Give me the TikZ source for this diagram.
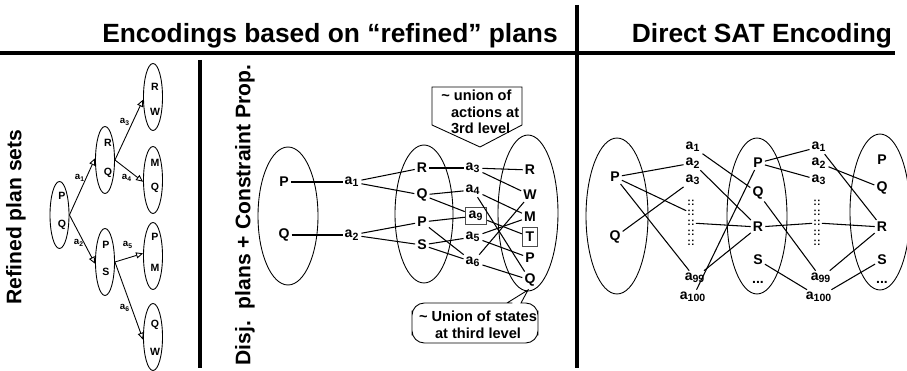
\documentclass[tikz,border=0pt]{standalone}
\usepackage{fontspec}
\setmainfont{Liberation Sans}
\usetikzlibrary{shapes.geometric,arrows.meta}

\tikzset{
  head/.style={font=\bfseries\fontsize{15}{17}\selectfont, inner sep=0pt, anchor=base},
  side/.style={font=\bfseries\fontsize{12}{14}\selectfont, inner sep=0pt, rotate=90},
  lbl/.style={font=\bfseries\fontsize{8}{9}\selectfont, inner sep=1pt},
  tlbl/.style={font=\bfseries\fontsize{6}{7}\selectfont, inner sep=0.5pt},
  elbl/.style={font=\bfseries\fontsize{5.5}{6}\selectfont, inner sep=0pt},
  dotrow/.style={font=\bfseries\fontsize{6}{6}\selectfont, inner sep=0.5pt},
  note/.style={font=\bfseries\fontsize{8.3}{9.5}\selectfont, inner sep=0pt},
  tset/.style={draw, ellipse, inner sep=0pt, minimum width=0.38cm, minimum height=1.34cm},
  pset/.style={draw, ellipse, inner sep=0pt, minimum width=1.2cm, minimum height=#1},
  boxed/.style={draw=black!70, inner sep=2pt},
  tarrow/.style={-{Triangle[open, length=4pt, width=3.5pt]}},
  link/.style={line width=0.6pt}
}

\begin{document}
\begin{tikzpicture}[x=0.02cm, y=-0.02cm, line width=0.5pt]
  \useasboundingbox (0,0) rectangle (907,371);

  % headings and dividers
  \node[head] (hrefined) at (330,43) {Encodings based on “refined” plans};
  \node[head] (hsat) at (762,43) {Direct SAT Encoding};
  \draw[line width=2.8pt] (0,53) -- (895,53);
  \draw[line width=2.3pt] (577,5) -- (577,368);
  \draw[line width=2.3pt] (200,60) -- (200,368);

  \node[side] (srefined) at (16,217) {Refined plan sets};
  \node[side] (sdisj) at (245,215) {Disj.~~plans + Constraint Prop.};

  % refined plan sets tree
  \node[tset] (t0) at (59.5,215) {};
  \node[tlbl] at (62,196) {P};
  \node[tlbl] at (62,225) {Q};
  \node[tset] (t1) at (105,160) {};
  \node[tlbl] at (108,143) {R};
  \node[tlbl] at (108,173) {Q};
  \node[tset] (t2) at (105,262) {};
  \node[tlbl] at (106,245) {P};
  \node[tlbl] at (106,272) {S};
  \node[tset] (t3) at (153,97) {};
  \node[tlbl] at (155,87) {R};
  \node[tlbl] at (155,112) {W};
  \node[tset] (t4) at (153,180) {};
  \node[tlbl] at (155,163) {M};
  \node[tlbl] at (155,188) {Q};
  \node[tset] (t5) at (153,256) {};
  \node[tlbl] at (155,237) {P};
  \node[tlbl] at (155,268) {M};
  \node[tset] (t6) at (153,337) {};
  \node[tlbl] at (155,325) {Q};
  \node[tlbl] at (155,352) {W};

  \draw[tarrow] (t0.east) -- (t1.170);
  \draw[tarrow] (t0.east) -- (t2.190);
  \draw[tarrow] (t1.east) -- (t3.195);
  \draw[tarrow] (t1.east) -- (t4.190);
  \draw[tarrow] (t2.east) -- (t5.165);
  \draw[tarrow] (t2.east) -- (t6.195);

  \node[elbl] at (80,178) {a\textsubscript{1}};
  \node[elbl] at (79,243) {a\textsubscript{2}};
  \node[elbl] at (125,122) {a\textsubscript{3}};
  \node[elbl] at (127,178) {a\textsubscript{4}};
  \node[elbl] at (128,245) {a\textsubscript{5}};
  \node[elbl] at (125,308) {a\textsubscript{6}};

  % disjunctive plans
  \node[pset=2.76cm] (m1) at (288,216) {};
  \node[lbl] (mp1) at (284,182) {P};
  \node[lbl] (mq1) at (284,235) {Q};
  \node[lbl] (ma1) at (352,182) {a\textsubscript{1}};
  \node[lbl] (ma2) at (352,235) {a\textsubscript{2}};

  \node[pset=2.76cm, minimum width=1.16cm] (m2) at (424,214) {};
  \node[lbl] (mr2) at (422,168) {R};
  \node[lbl] (mq2) at (422,195) {Q};
  \node[lbl] (mp2) at (422,222) {P};
  \node[lbl] (ms2) at (422,245) {S};

  \node[lbl] (ma3) at (473,168) {a\textsubscript{3}};
  \node[lbl] (ma4) at (473,190) {a\textsubscript{4}};
  \node[lbl, boxed] (ma9) at (476,216) {a\textsubscript{9}};
  \node[lbl] (ma5) at (473,237) {a\textsubscript{5}};
  \node[lbl] (ma6) at (473,262) {a\textsubscript{6}};

  \node[pset=3.12cm] (m3) at (528,213) {};
  \node[lbl] (mr3) at (530,170) {R};
  \node[lbl] (mw3) at (530,195) {W};
  \node[lbl] (mm3) at (530,217) {M};
  \node[lbl, boxed, inner ysep=2.5pt] (mt3) at (530,237) {T};
  \node[lbl] (mp3) at (530,258) {P};
  \node[lbl] (mq3) at (530,280) {Q};

  \draw[link] (mp1) -- (ma1);
  \draw[link] (mq1) -- (ma2);
  \draw[link] (ma1) -- (mr2);
  \draw[link] (ma1) -- (mq2);
  \draw[link] (ma2) -- (mp2);
  \draw[link] (ma2) -- (ms2);
  \draw[link] (mr2) -- (ma3);
  \draw[link] (mq2) -- (ma4);
  \draw[link] (mq2) -- (ma9);
  \draw[link] (mp2) -- (ma9);
  \draw[link] (mp2) -- (ma6);
  \draw[link] (ms2) -- (ma5);
  \draw[link] (ms2) -- (ma6);
  \draw[link] (ma3) -- (mr3);
  \draw[link] (ma3) -- (mw3);
  \draw[link] (ma4) -- (mm3);
  \draw[link] (ma4) -- (mq3);
  \draw[link] (ma9) -- (mt3);
  \draw[link] (ma5) -- (mm3);
  \draw[link] (ma5) -- (mp3);
  \draw[link] (ma6) -- (mw3);
  \draw[link] (ma6) -- (mq3);

  % callouts
  \draw (432,87) -- (522,87) -- (522,125) -- (480,147) -- (432,125) -- cycle;
  \node[note, align=left, anchor=west] (nact) at (441,112)
    {\char`\~{} union of\\\hspace*{5.5pt}actions at\\\hspace*{5.5pt}3rd level};
  \draw (412,323) [rounded corners=7pt] |- (500,303) [sharp corners] -- (507,303)
    -- (528,290) -- (521,303) [rounded corners=7pt] -| (538,323) |- (412,343) -- cycle;
  \node[note, align=center] (nstate) at (478,325)
    {\char`\~{} Union of states\\at third level};

  % direct SAT encoding
  \node[pset=3.12cm, minimum width=1.24cm] (sa) at (617,216) {};
  \node[lbl] (sap) at (615,177) {P};
  \node[lbl] (saq) at (615,237) {Q};

  \node[pset=3.12cm] (sb) at (757,216) {};
  \node[lbl] (sbp) at (758,163) {P};
  \node[lbl] (sbq) at (758,193) {Q};
  \node[lbl] (sbr) at (758,227) {R};
  \node[lbl] (sbs) at (758,260) {S};
  \node[lbl] (sbx) at (758,282) {...};

  \node[pset=3.12cm] (sc) at (880,212) {};
  \node[lbl] (scp) at (882,160) {P};
  \node[lbl] (scq) at (882,188) {Q};
  \node[lbl] (scr) at (882,227) {R};
  \node[lbl] (scs) at (882,260) {S};
  \node[lbl] (scx) at (882,282) {...};

  \node[lbl] (b1) at (693,147) {a\textsubscript{1}};
  \node[lbl] (b2) at (693,163) {a\textsubscript{2}};
  \node[lbl] (b3) at (693,180) {a\textsubscript{3}};
  \node[lbl] (b99) at (695,278) {a\textsubscript{99}};
  \node[lbl] (b100) at (693,297) {a\textsubscript{100}};
  \node[lbl] (c1) at (819,147) {a\textsubscript{1}};
  \node[lbl] (c2) at (819,163) {a\textsubscript{2}};
  \node[lbl] (c3) at (819,180) {a\textsubscript{3}};
  \node[lbl] (c99) at (821,278) {a\textsubscript{99}};
  \node[lbl] (c100) at (819,297) {a\textsubscript{100}};
  \foreach \y [count=\i] in {203,213,223,233,243} {
    \node[dotrow] (bd\i) at (691,\y) {::};
    \node[dotrow] (cd\i) at (817,\y) {::};
  }

  \draw[link] (sap) -- (b2);
  \draw[link] (sap) -- (bd2);
  \draw[link] (sap) -- (b99);
  \draw[link] (saq) -- (b3);
  \draw[link] (b1) -- (sbq);
  \draw[link] (b2) -- (sbr);
  \draw[link] (bd3) -- (sbr);
  \draw[link] (b99) -- (sbr);
  \draw[link] (b100) -- (sbp);
  \draw[link] (sbp) -- (c1);
  \draw[link] (sbp) -- (c3);
  \draw[link] (sbq) -- (c99);
  \draw[link] (sbr) -- (cd3);
  \draw[link] (sbs) -- (c100);
  \draw[link] (c1) -- (scr);
  \draw[link] (c2) -- (scq);
  \draw[link] (cd3) -- (scr);
  \draw[link] (c99) -- (scr);
  \draw[link] (c100) -- (scs);
\end{tikzpicture}
\end{document}
